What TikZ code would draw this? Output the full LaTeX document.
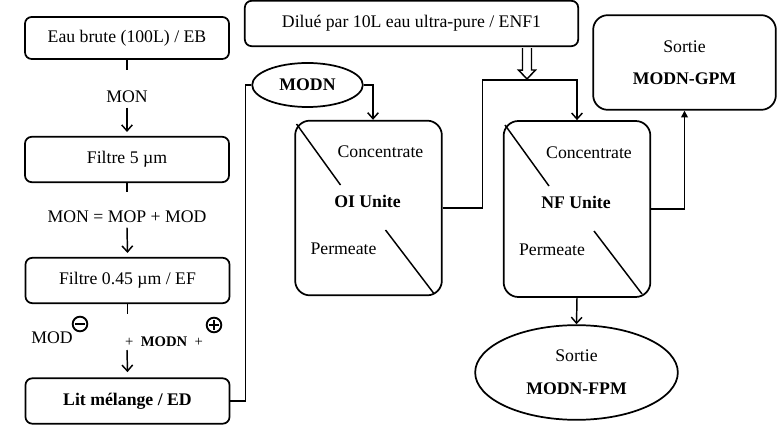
\documentclass[tikz,border=0pt]{standalone}
\usepackage{fontspec}
\setmainfont{Liberation Serif}
\usetikzlibrary{arrows.meta, positioning, shapes.geometric, calc}

\begin{document}
\begin{tikzpicture}[x=0.75pt, y=-0.75pt,
    every node/.style={font=\fontsize{13.3}{16}\selectfont},
    box/.style={draw, line width=1.3pt, rounded corners=5pt, minimum width=153pt, minimum height=34pt},
    unit/.style={draw, line width=1.3pt, rounded corners=11pt, minimum width=110pt, minimum height=131pt},
    oval/.style={draw, ellipse, line width=1.3pt, inner sep=0pt},
    sign/.style={circle, draw, line width=1.4pt, minimum size=11pt, inner sep=0pt},
    line/.style={line width=1.1pt},
    arr/.style={line width=1.1pt, -{Straight Barb[length=4.5pt, width=8pt]}}]
    \useasboundingbox (0,0) rectangle (784,441);

    % Left column
    \node[box, minimum height=31.5pt] (eb) at (127,38) {Eau brute (100L) / EB};
    \node[box] (f5) at (127,159.5) {Filtre 5 µm};
    \node[box] (f045) at (127.5,280.5) {Filtre 0.45 µm / EF};
    \node[box] (ed) at (127.5,401) {\textbf{Lit mélange / ED}};

    \node (mon) at (127,97) {MON};
    \node (mop) at (127,217) {MON = MOP + MOD};
    \node (modm) at (52,338) {MOD};
    \node[sign] (neg) at (80,324) {};
    \draw[line width=1.4pt] ([xshift=-3.6pt]neg.center) -- ([xshift=3.6pt]neg.center);
    \node[font=\fontsize{11}{13}\selectfont] (mix) at (164,342) {+\enspace\textbf{MODN}\enspace+};
    \node[sign] (pos) at (214,325) {};
    \draw[line width=1.4pt] ([xshift=-3.6pt]pos.center) -- ([xshift=3.6pt]pos.center)
        ([yshift=-3.6pt]pos.center) -- ([yshift=3.6pt]pos.center);

    \draw[line] (eb.south) -- ++(0,10);
    \draw[arr] (mon.south) -- ([yshift=3pt]f5.north);
    \draw[line] (f5.south) -- ++(0,9);
    \draw[arr] (mop.south) -- ([yshift=3pt]f045.north);
    \draw[line] (f045.south) -- ++(0,10);
    \draw[arr] (127,350) -- ([yshift=4pt]ed.north);

    % Membrane units
    \node[box, minimum width=250pt, minimum height=34pt] (dil) at (411.5,23.5) {Dilué par 10L eau ultra-pure / ENF1};
    \node[oval, minimum width=83pt, minimum height=33pt] (modn) at (307.5,85) {\textbf{MODN}};
    \node[unit] (oi) at (368.5,208) {};
    \node[unit, minimum height=132pt] (nf) at (577,209) {};
    \node[box, rounded corners=11pt, minimum width=137pt, minimum height=71pt, align=center] (gpm) at (684.5,62.5) {Sortie\\[8pt]\textbf{MODN-GPM}};
    \node[oval, minimum width=152pt, minimum height=71pt, align=center] (fpm) at (576.5,372.5) {Sortie\\[9pt]\textbf{MODN-FPM}};

    \foreach \u/\lbl in {oi/OI, nf/NF} {
        \draw[line] ($(\u.center)+(-72,-84)$) -- ($(\u.center)+(-28,-23)$);
        \draw[line] ($(\u.center)+(17,22)$) -- ($(\u.center)+(65,85)$);
        \node at ($(\u.center)+(12,-56)$) {Concentrate};
        \node at ($(\u.center)+(-1,-7)$) {\textbf{\lbl\ Unite}};
        \node at ($(\u.center)+(-25,41)$) {Permeate};
    }

    % Connections
    \coordinate (jn) at (527,80);
    \draw[line] (ed.east) -- ++(15,0) |- (modn.west);
    \draw[arr] (modn.east) -| ([xshift=3.4pt]oi.north);
    \draw[arr] (oi.east) -- ++(40,0) |- (jn) -| (nf.north);
    \draw[line, fill=white] ($(dil.south -| jn)+(-4.5,1)$) -- ++(0,22) -- ++(-4,0) -- ($(jn)+(0,-1)$)
        -- ($(jn)+(8.5,-10)$) -- ++(-4,0) -- ($(dil.south -| jn)+(4.5,1)$);
    \draw[line, -{Triangle[length=5pt, width=5pt]}] (nf.east) -| (gpm.south);
    \draw[arr] (nf.south) -- (fpm.north);
\end{tikzpicture}
\end{document}
